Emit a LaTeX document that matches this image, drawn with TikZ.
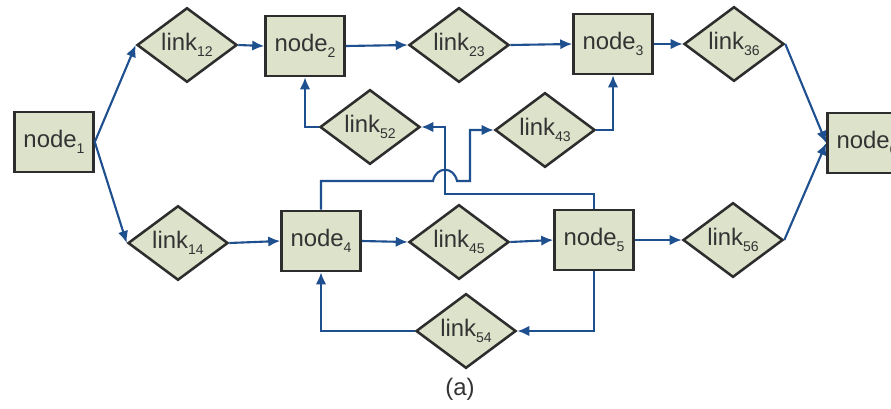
\documentclass[tikz,border=0pt]{standalone}
\usepackage{fontspec}
\setmainfont{Liberation Sans}
\usetikzlibrary{shapes.geometric,arrows.meta}

\definecolor{boxfill}{RGB}{221,226,203}
\definecolor{wire}{RGB}{30,79,142}
\definecolor{edgegray}{RGB}{45,45,45}

\newcommand{\lsub}[1]{\raisebox{-0.45ex}{\fontsize{10}{11}\selectfont #1}}

\tikzset{
  netnode/.style={draw=edgegray,line width=1.8pt,fill=boxfill,inner sep=0pt,text=black!80,
    minimum width=1.975cm,minimum height=1.5cm,font=\fontsize{17}{19}\selectfont},
  netlink/.style={diamond,draw=edgegray,line width=1.8pt,fill=boxfill,inner sep=0pt,text=black!80,
    minimum width=2.5cm,minimum height=1.78cm,font=\fontsize{17}{19}\selectfont},
  conn/.style={draw=wire,line width=1.5pt,-{Latex[length=3mm,width=2.6mm]}},
}

\begin{document}
\begin{tikzpicture}[x=0.025cm,y=-0.025cm]
  \clip (0,0) rectangle (891,408);
  \fill[white] (0,0) rectangle (891,408);

  \node[netnode] (n1) at (54,142) {node\lsub{1}};
  \node[netnode] (n2) at (305,46) {node\lsub{2}};
  \node[netnode] (n3) at (613,44) {node\lsub{3}};
  \node[netnode] (n4) at (321,241) {node\lsub{4}};
  \node[netnode] (n5) at (594,240) {node\lsub{5}};
  \node[netnode] (n6) at (867,143) {node\lsub{6}};

  \node[netlink] (l12) at (187,45) {link\lsub{12}};
  \node[netlink] (l23) at (459,45) {link\lsub{23}};
  \node[netlink] (l36) at (734,44) {link\lsub{36}};
  \node[netlink] (l52) at (370,127) {link\lsub{52}};
  \node[netlink] (l43) at (545,130) {link\lsub{43}};
  \node[netlink] (l14) at (178,243) {link\lsub{14}};
  \node[netlink] (l45) at (459,242) {link\lsub{45}};
  \node[netlink] (l56) at (733,240) {link\lsub{56}};
  \node[netlink] (l54) at (466,331) {link\lsub{54}};

  \draw[conn] (n1.east) -- (l12.west);
  \draw[conn] (n1.east) -- (l14.west);
  \draw[conn] (l12.east) -- (n2.west);
  \draw[conn] (n2.east) -- (l23.west);
  \draw[conn] (l23.east) -- (n3.west);
  \draw[conn] (n3.east) -- (l36.west);
  \draw[conn] (l36.east) -- (n6.west);
  \draw[conn] (l14.east) -- (n4.west);
  \draw[conn] (n4.east) -- (l45.west);
  \draw[conn] (l45.east) -- (n5.west);
  \draw[conn] (n5.east) -- (l56.west);
  \draw[conn] (l56.east) -- (n6.west);

  \draw[conn] (l52.west) -| (n2.south);
  \draw[conn] (l43.east) -| (n3.south);
  \draw[conn] (n5.south) |- (l54.east);
  \draw[conn] (l54.west) -| (n4.south);

  \draw[conn] (n5.north) |- (445,194) |- (l52.east);
  \draw[conn] (n4.north) |- (433,181) .. controls (436,166) and (454,166) .. (457,181)
    -- (470,181) |- (l43.west);

  \node[font=\fontsize{17}{19}\selectfont,text=black!80] (cap) at (460,389) {(a)};
\end{tikzpicture}
\end{document}
